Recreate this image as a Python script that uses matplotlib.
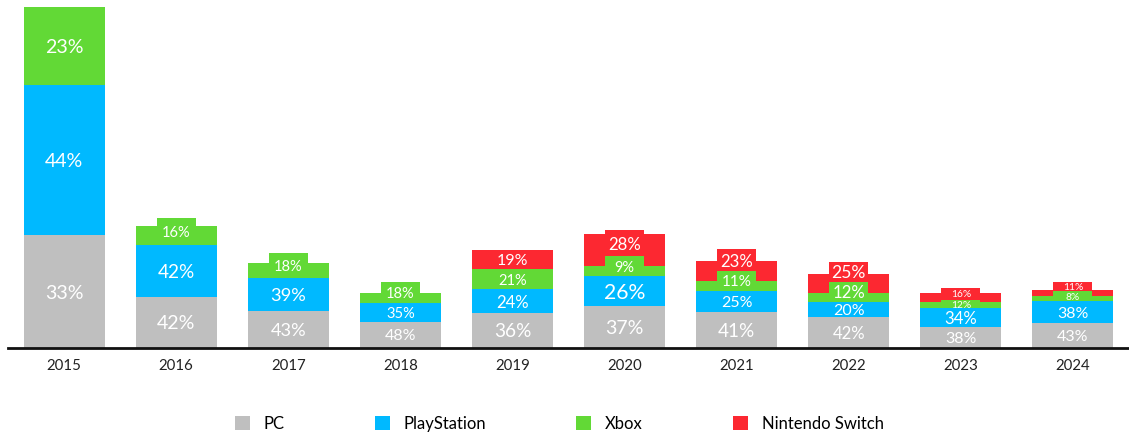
import numpy as np
import matplotlib.pyplot as plt
from matplotlib.patches import Rectangle

plt.rcParams['font.family'] = ['Lato', 'DejaVu Sans']

years = ['2015', '2016', '2017', '2018', '2019', '2020', '2021', '2022', '2023', '2024']
# bar height, relative units (2015 = 100)
totals = [100, 35.8, 24.9, 16.1, 28.7, 33.4, 25.5, 21.7, 16.1, 17.0]
pc = [33, 42, 43, 48, 36, 37, 41, 42, 38, 43]
playstation = [44, 42, 39, 35, 24, 26, 25, 20, 34, 38]
xbox = [23, 16, 18, 18, 21, 9, 11, 12, 12, 8]
switch = [0, 0, 0, 0, 19, 28, 23, 25, 16, 11]

names = ['PC', 'PlayStation', 'Xbox', 'Nintendo Switch']
colors = ['#BFBFBF', '#00B9FF', '#62D936', '#FC2831']

# label styling (not data): font size and how far the label tab sticks up (px)
label_pt = [
    [13.5, 13.5, 12.5, 11, 13, 13.5, 13, 11.5, 11, 11],
    [13.5, 13, 12.5, 10, 11.5, 14.5, 11, 11, 11.5, 11],
    [13.5, 10, 10, 10, 10, 10, 10.5, 11.5, 7, 7],
    [0, 0, 0, 0, 11, 11.5, 11.5, 12, 7, 7],
]
tab_px = [
    [0] * 10,
    [0] * 10,
    [0, 8, 10, 11, 0, 10, 10, 11, 2, 5],
    [0, 0, 0, 0, 0, 4, 12, 12, 5, 8],
]

W, H = 1129, 437
fig = plt.figure(figsize=(W / 100, H / 100), dpi=100)
ax = fig.add_axes([8 / W, 89 / H, 1121 / W, 348 / H])
ytop = 348 / 3.41
upp = ytop / 348  # data units per pixel

shares = np.array([pc, playstation, xbox, switch], dtype=float)
shares_n = shares / shares.sum(axis=0)
segs = shares_n * np.array(totals)
bottoms = np.vstack([np.zeros(len(years)), np.cumsum(segs, axis=0)[:-1]])
x = np.arange(len(years))
bw = 0.723
tw = 0.348

# draw top series first so lower ones (and their tabs) sit above
for i in reversed(range(4)):
    z = 10 - i
    ax.bar(x, segs[i], bw, bottom=bottoms[i], color=colors[i], zorder=z, label=names[i])
    for j in range(len(years)):
        if shares[i, j] == 0:
            continue
        top = bottoms[i, j] + segs[i, j]
        vis_top = top + tab_px[i][j] * upp
        if tab_px[i][j]:
            ax.add_patch(Rectangle((x[j] - tw / 2, top - 0.01), tw, tab_px[i][j] * upp + 0.01,
                                   color=colors[i], lw=0, zorder=z))
        if i == 0:
            low = 0
        else:
            low = bottoms[i, j] + tab_px[i - 1][j] * upp
        ax.text(x[j], (vis_top + low) / 2, f'{int(shares[i, j])}%', ha='center', va='center_baseline',
                color='white', fontsize=label_pt[i][j] * 1.05, zorder=z + 0.5)

ax.set_xlim(-0.5, len(years) - 0.5)
ax.set_ylim(0, ytop)
ax.set_xticks(x)
ax.set_xticklabels(years, fontsize=10.8, color='#222222')
ax.tick_params(axis='x', length=0, pad=8)
ax.set_yticks([])
for s in ['top', 'right', 'left']:
    ax.spines[s].set_visible(False)
ax.spines['bottom'].set_linewidth(2)
ax.spines['bottom'].set_color('#111111')
ax.spines['bottom'].set_zorder(20)

handles, labels = ax.get_legend_handles_labels()
hmap = dict(zip(labels, handles))
fig.legend([hmap[n] for n in names], names, loc='center', bbox_to_anchor=(559.5 / W, 13 / H),
           ncol=4, frameon=False, fontsize=12, handlelength=0.88, handleheight=0.88,
           handletextpad=0.85, columnspacing=5.4, borderpad=0)

fig.savefig('out.png', dpi=100)
